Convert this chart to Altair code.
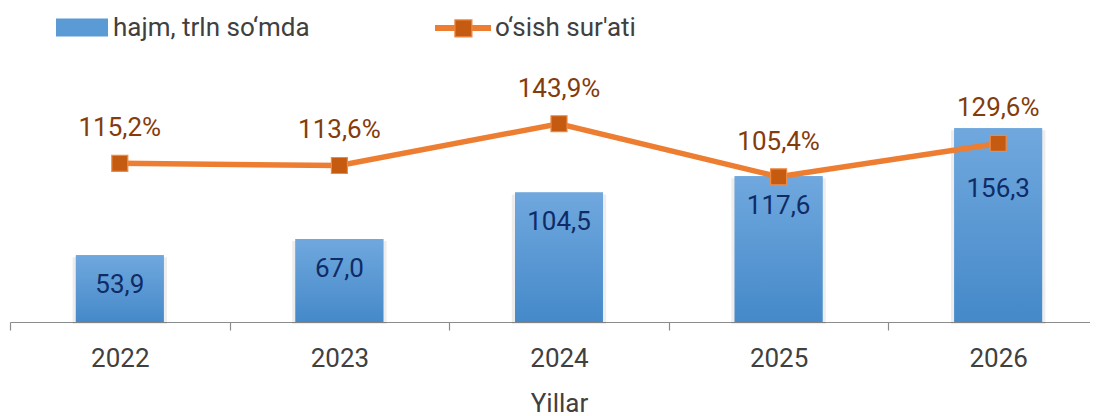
import altair as alt
import pandas as pd

years = ["2022", "2023", "2024", "2025", "2026"]
volume = [53.9, 67.0, 104.5, 117.6, 156.3]
growth = [115.2, 113.6, 143.9, 105.4, 129.6]
bar_series = "hajm, trln so‘mda"
line_series = "o‘sish sur'ati"
x_title = "Yillar"

df = pd.DataFrame({
    "yil": years,
    "hajm": volume,
    "osish": growth,
    "s1": bar_series,
    "s2": line_series,
    "s3": " ",
})

FONT = "Roboto"
TXT = "#404040"
FS = 26

x_axis = alt.Axis(
    title=x_title, labelAngle=0, labelFont=FONT, labelFontSize=FS, labelColor=TXT,
    labelPadding=15, tickBand="extent", ticks=True, tickSize=8, tickColor="#8c8c8c",
    domainColor="#8c8c8c", domainWidth=1.2, tickWidth=1.2, grid=False,
    titleFont=FONT, titleFontSize=FS, titleColor=TXT, titleFontWeight="normal",
    titlePadding=19,
)
x_enc = alt.X("yil:N", sort=None,
              scale=alt.Scale(paddingInner=0, paddingOuter=0, range=[0, 1098]),
              axis=x_axis)

y1 = alt.Y("hajm:Q", scale=alt.Scale(domain=[0, 200]), axis=None)
y2 = alt.Y("osish:Q", scale=alt.Scale(domain=[0, 180]), axis=None)

base = alt.Chart(df)

shadow = base.mark_bar(width=alt.RelativeBandSize(0.43), color="black", opacity=0.07, yOffset=2).encode(
    x=x_enc, y=y1)

bars_leg = base.mark_bar(width=alt.RelativeBandSize(0.4)).encode(
    x=x_enc, y=y1,
    color=alt.Color("s1:N", scale=alt.Scale(range=["#5b9bd5"]), legend=alt.Legend(
        title=None, orient="none", legendX=46, legendY=-72.5, padding=0,
        symbolType="M-1,-0.346H1V0.346H-1Z", symbolSize=2704, symbolStrokeWidth=0,
        labelFont=FONT, labelFontSize=FS, labelColor=TXT, labelOffset=5, labelLimit=400)),
)

bars = base.mark_bar(
    width=alt.RelativeBandSize(0.4),
    color=alt.Gradient(gradient="linear", x1=0, x2=0, y1=0, y2=1, stops=[
        alt.GradientStop(color="#70a8de", offset=0),
        alt.GradientStop(color="#4589c9", offset=1),
    ]),
).encode(x=x_enc, y=y1)

bar_text = base.mark_text(
    font=FONT, fontSize=FS, color="#0f2c66", baseline="middle",
    dy=alt.expr("datum.yil == '2026' ? 61 : 30"),
).transform_calculate(
    lab="replace(format(datum.hajm, '.1f'), '.', ',')"
).encode(x=x_enc, y=y1, text="lab:N")

line = base.mark_line(strokeWidth=5.5).encode(
    x=x_enc, y=y2,
    stroke=alt.Stroke("s2:N", scale=alt.Scale(range=["#ed7d31"]), legend=alt.Legend(
        title=None, orient="none", legendX=422, legendY=-77, padding=0,
        symbolType="stroke", symbolSize=3136, symbolStrokeWidth=6,
        labelFont=FONT, labelFontSize=FS, labelColor=TXT, labelOffset=1, labelLimit=400)),
)

points = base.mark_point(shape="square", filled=True, size=256, stroke="#ef8a45", strokeWidth=1.2, opacity=1).encode(
    x=x_enc, y=y2,
    fill=alt.Fill("s3:N", scale=alt.Scale(range=["#c55a11"]), legend=alt.Legend(
        title=None, orient="none", legendX=443.9, legendY=-55.1, padding=0, zindex=2,
        symbolType="square", symbolSize=289, symbolStrokeColor="#ef8a45", symbolStrokeWidth=1.2,
        symbolOpacity=1, labelOpacity=0, labelFontSize=1)),
)

pct_text = base.mark_text(
    font=FONT, fontSize=FS, color="#843c0c", baseline="middle", dy=-35,
).transform_calculate(
    lab="replace(format(datum.osish, '.1f'), '.', ',') + '%'"
).encode(x=x_enc, y=y2, text="lab:N")

left = alt.layer(shadow, bars_leg, bars, bar_text)
right = alt.layer(line, points, pct_text)

chart = alt.layer(left, right).resolve_scale(y="independent").properties(
    width=1080, height=248,
    padding={"left": 2, "top": 66, "right": 0, "bottom": 100},
    autosize=alt.AutoSizeParams(type="none"),
    background="white",
).configure_view(stroke=None)

chart.save("out.html", embed_options={"renderer": "svg", "actions": False})
